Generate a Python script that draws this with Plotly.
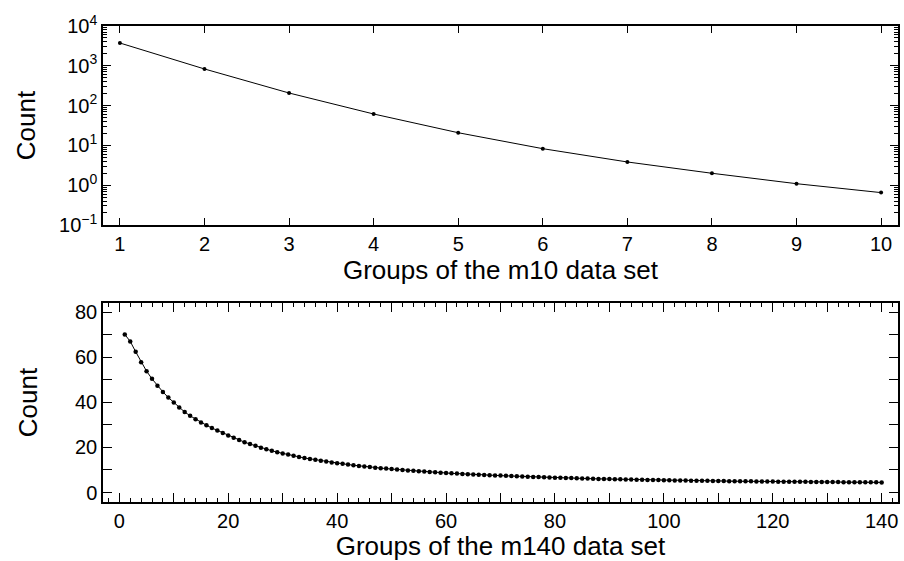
import plotly.graph_objects as go
from plotly.subplots import make_subplots

# ---- data ----
m10_groups = [1, 2, 3, 4, 5, 6, 7, 8, 9, 10]
m10_counts = [3740, 832, 207, 61.5, 20.8, 8.26, 3.83, 1.99, 1.09, 0.65]

m140_groups = list(range(1, 141))
m140_counts = [
    70.1, 67.0, 62.4, 57.8, 53.8, 50.4, 47.3, 44.6, 42.1, 39.9,
    37.7, 35.7, 34.0, 32.5, 31.0, 29.8, 28.6, 27.5, 26.4, 25.3,
    24.3, 23.3, 22.3, 21.5, 20.7, 19.9, 19.2, 18.5, 17.9, 17.3,
    16.8, 16.3, 15.8, 15.3, 14.9, 14.5, 14.1, 13.7, 13.3, 13.0,
    12.7, 12.4, 12.1, 11.8, 11.5, 11.3, 11.0, 10.8, 10.6, 10.4,
    10.2, 10.0, 9.8, 9.6, 9.4, 9.3, 9.1, 8.95, 8.8, 8.65,
    8.5, 8.4, 8.25, 8.1, 8.0, 7.9, 7.8, 7.7, 7.6, 7.5,
    7.4, 7.3, 7.2, 7.1, 7.0, 6.9, 6.85, 6.75, 6.7, 6.6,
    6.5, 6.45, 6.4, 6.3, 6.25, 6.2, 6.1, 6.05, 6.0, 5.95,
    5.9, 5.85, 5.8, 5.75, 5.7, 5.65, 5.6, 5.55, 5.5, 5.45,
    5.4, 5.38, 5.35, 5.3, 5.27, 5.24, 5.2, 5.17, 5.14, 5.1,
    5.08, 5.05, 5.02, 5.0, 4.97, 4.95, 4.92, 4.9, 4.88, 4.85,
    4.83, 4.81, 4.79, 4.77, 4.75, 4.73, 4.71, 4.69, 4.67, 4.65,
    4.63, 4.61, 4.6, 4.58, 4.56, 4.55, 4.53, 4.52, 4.5, 4.49,
]

top_xlabel = "Groups of the m10 data set"
bottom_xlabel = "Groups of the m140 data set"
ylabel = "Count"

log_tick_exps = [-1, 0, 1, 2, 3, 4]
log_tick_vals = [10.0 ** e for e in log_tick_exps]
log_tick_text = ["10<sup>%s</sup>" % (str(e) if e >= 0 else "\u2212" + str(-e)) for e in log_tick_exps]
log_minor_vals = [m * 10.0 ** e for e in log_tick_exps[:-1] for m in range(2, 10)]

bx_tick_vals = list(range(0, 141, 10))
bx_tick_text = [str(v) if v % 20 == 0 else "" for v in bx_tick_vals]

FONT = "Liberation Sans, Arial, Helvetica, sans-serif"
TICK_SIZE = 20
TITLE_SIZE = 26

fig = make_subplots(rows=2, cols=1, vertical_spacing=0.164)

fig.add_trace(go.Scatter(
    x=m10_groups, y=m10_counts, mode="lines+markers",
    line=dict(color="black", width=1),
    marker=dict(color="black", size=4),
    showlegend=False), row=1, col=1)

fig.add_trace(go.Scatter(
    x=m140_groups, y=m140_counts, mode="lines+markers",
    line=dict(color="black", width=1),
    marker=dict(color="black", size=4.5),
    showlegend=False), row=2, col=1)

axis_common = dict(showline=True, linecolor="black", linewidth=1.5, mirror="allticks",
                   ticks="inside", tickcolor="black", showgrid=False, zeroline=False,
                   tickfont=dict(family=FONT, size=TICK_SIZE, color="black"))

fig.update_xaxes(row=1, col=1, range=[0.8, 10.2], tickmode="array",
                 tickvals=m10_groups, ticklen=7, tickwidth=1,
                 title=dict(text=top_xlabel, font=dict(family=FONT, size=TITLE_SIZE, color="black"), standoff=4),
                 **axis_common)
fig.update_yaxes(row=1, col=1, type="log", range=[-1, 4], tickmode="array",
                 tickvals=log_tick_vals, ticktext=log_tick_text, ticklen=8, tickwidth=1,
                 minor=dict(tickmode="array", tickvals=log_minor_vals, ticks="inside",
                            ticklen=4, tickcolor="black", tickwidth=1, showgrid=False),
                 title=dict(text=ylabel, font=dict(family=FONT, size=TITLE_SIZE, color="black"), standoff=16),
                 **axis_common)

fig.update_xaxes(row=2, col=1, range=[-3, 143], tickmode="array",
                 tickvals=bx_tick_vals, ticktext=bx_tick_text, ticklen=9, tickwidth=1,
                 minor=dict(dtick=2, tick0=0, ticks="inside", ticklen=4, tickcolor="black",
                            tickwidth=1, showgrid=False),
                 title=dict(text=bottom_xlabel, font=dict(family=FONT, size=TITLE_SIZE, color="black"), standoff=4),
                 **axis_common)
fig.update_yaxes(row=2, col=1, range=[-4.2, 84], tickmode="array",
                 tickvals=[0, 20, 40, 60, 80], ticklen=9, tickwidth=1,
                 minor=dict(dtick=10, tick0=0, ticks="inside", ticklen=9, tickcolor="black",
                            tickwidth=1, showgrid=False),
                 title=dict(text=ylabel, font=dict(family=FONT, size=TITLE_SIZE, color="black"), standoff=30),
                 **axis_common)

fig.update_layout(
    width=904, height=561,
    margin=dict(l=103, r=4, t=26, b=59),
    paper_bgcolor="white", plot_bgcolor="white",
    font=dict(family=FONT, color="black"),
)
fig.update_yaxes(row=1, col=1, domain=[0.582, 1.0])
fig.update_yaxes(row=2, col=1, domain=[0.0, 0.418])

fig.write_html("out.html",
               config={"displayModeBar": False},
               post_script="document.body.style.margin='0';document.body.style.overflow='hidden';")
